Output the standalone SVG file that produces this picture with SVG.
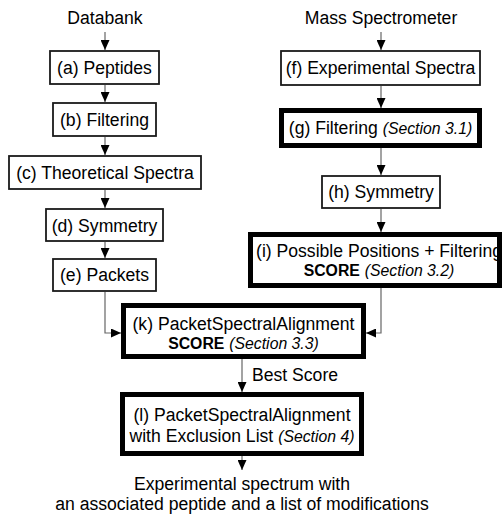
<svg xmlns="http://www.w3.org/2000/svg" width="503" height="514" viewBox="0 0 503 514">
<style>
text{font-family:"Liberation Sans",Arial,sans-serif;font-size:17.6px;fill:#000;text-anchor:middle}
.b{font-weight:bold;font-size:15.8px}
.i{font-style:italic;font-size:15.8px}
.thin{fill:#fff;stroke:#1a1a1a;stroke-width:1.8}
.thick{fill:#fff;stroke:#000;stroke-width:5}
.c{fill:none;stroke:#666;stroke-width:1.2}
</style>
<defs>
<marker id="ah" markerUnits="userSpaceOnUse" markerWidth="10" markerHeight="9" refX="10" refY="4.5" orient="auto">
<path d="M0,0 L10,4.5 L0,9 z" fill="#000"/>
</marker>
</defs>
<rect width="503" height="514" fill="#fff"/>
<text x="105" y="24">Databank</text>
<text x="381" y="24">Mass Spectrometer</text>
<g id="connectors">
<path class="c" d="M105,32 V50" marker-end="url(#ah)"/>
<path class="c" d="M105,85 V102" marker-end="url(#ah)"/>
<path class="c" d="M105,137 V155" marker-end="url(#ah)"/>
<path class="c" d="M105,190 V208" marker-end="url(#ah)"/>
<path class="c" d="M105,242 V258" marker-end="url(#ah)"/>
<path class="c" d="M105,292 V333 H121" marker-end="url(#ah)"/>
<path class="c" d="M381,32 V50" marker-end="url(#ah)"/>
<path class="c" d="M381,86 V108" marker-end="url(#ah)"/>
<path class="c" d="M381,148 V175" marker-end="url(#ah)"/>
<path class="c" d="M381,209 V232" marker-end="url(#ah)"/>
<path class="c" d="M381,288 V333 H366" marker-end="url(#ah)"/>
<path class="c" d="M242,359 V392" marker-end="url(#ah)"/>
<path class="c" d="M242,456 V470" marker-end="url(#ah)"/>
</g>
<g id="a"><rect class="thin" x="50" y="51" width="109" height="33"/><text x="104.5" y="74">(a) Peptides</text></g>
<g id="b"><rect class="thin" x="53" y="103" width="103" height="33"/><text x="104.5" y="126">(b) Filtering</text></g>
<g id="c"><rect class="thin" x="9" y="156" width="192" height="33"/><text x="105" y="179">(c) Theoretical Spectra</text></g>
<g id="d"><rect class="thin" x="46" y="209" width="117" height="32"/><text x="104.5" y="232">(d) Symmetry</text></g>
<g id="e"><rect class="thin" x="53" y="259" width="103" height="32"/><text x="104.5" y="281">(e) Packets</text></g>
<g id="f"><rect class="thin" x="281" y="51" width="199" height="34"/><text x="380.5" y="74">(f) Experimental Spectra</text></g>
<g id="g"><rect class="thick" x="281.5" y="110.5" width="198" height="35"/><text x="380.5" y="134">(g) Filtering <tspan class="i">(Section 3.1)</tspan></text></g>
<g id="h"><rect class="thin" x="322" y="176" width="118" height="32"/><text x="381" y="198">(h) Symmetry</text></g>
<g id="i"><rect class="thick" x="250.5" y="234.5" width="249" height="51"/><text x="379" y="257">(i) Possible Positions + Filtering</text><text x="379" y="276"><tspan class="b">SCORE</tspan> <tspan class="i">(Section 3.2)</tspan></text></g>
<g id="k"><rect class="thick" x="123.5" y="305.5" width="240" height="51"/><text x="243.5" y="330">(k) PacketSpectralAlignment</text><text x="243.5" y="349"><tspan class="b">SCORE</tspan> <tspan class="i">(Section 3.3)</tspan></text></g>
<text x="252" y="381" style="text-anchor:start">Best Score</text>
<g id="l"><rect class="thick" x="122.5" y="394.5" width="239" height="59"/><text x="242" y="421">(l) PacketSpectralAlignment</text><text x="242" y="442">with Exclusion List <tspan class="i">(Section 4)</tspan></text></g>
<text x="242" y="490">Experimental spectrum with</text>
<text x="242" y="510">an associated peptide and a list of modifications</text>
</svg>
